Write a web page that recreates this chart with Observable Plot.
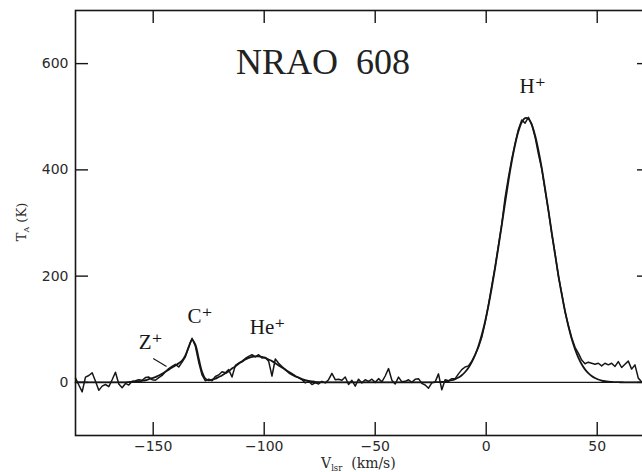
<!DOCTYPE html>
<html>
<head>
<meta charset="utf-8">
<script src="https://cdn.jsdelivr.net/npm/d3@7"></script>
<script src="https://cdn.jsdelivr.net/npm/@observablehq/plot@0.6"></script>
<style>
  html, body { margin: 0; padding: 0; background: #fff; overflow: hidden; }
  #chart { width: 642px; height: 472px; overflow: hidden; }
</style>
</head>
<body>
<div id="chart"></div>
<script>
// Channel velocities (km/s, LSR)
const velocity = [
  -185, -183.5, -182, -180.5, -179, -177.5, -176, -174.5, -173, -171.5,
  -170, -168.5, -167, -165.5, -164, -162.5, -161, -159.5, -158, -156.5,
  -155, -153.5, -152, -150.5, -149, -147.5, -146, -144.5, -143, -141.5,
  -140, -138.5, -137, -135.5, -134, -132.5, -131, -129.5, -128, -126.5,
  -125, -123.5, -122, -120.5, -119, -117.5, -116, -114.5, -113, -111.5,
  -110, -108.5, -107, -105.5, -104, -102.5, -101, -99.5, -98, -96.5,
  -95, -93.5, -92, -90.5, -89, -87.5, -86, -84.5, -83, -81.5,
  -80, -78.5, -77, -75.5, -74, -72.5, -71, -69.5, -68, -66.5,
  -65, -63.5, -62, -60.5, -59, -57.5, -56, -54.5, -53, -51.5,
  -50, -48.5, -47, -45.5, -44, -42.5, -41, -39.5, -38, -36.5,
  -35, -33.5, -32, -30.5, -29, -27.5, -26, -24.5, -23, -21.5,
  -20, -18.5, -17, -15.5, -14, -12.5, -11, -9.5, -8, -6.5,
  -5, -3.5, -2, -0.5, 1, 2.5, 4, 5.5, 7, 8.5,
  10, 11.5, 13, 14.5, 16, 17.5, 19, 20.5, 22, 23.5,
  25, 26.5, 28, 29.5, 31, 32.5, 34, 35.5, 37, 38.5,
  40, 41.5, 43, 44.5, 46, 47.5, 49, 50.5, 52, 53.5,
  55, 56.5, 58, 59.5, 61, 62.5, 64, 65.5, 67, 68.5,
  70
];

// Observed antenna temperature T_A (K)
const observed = [
  8, -5, -18, 10, 13, 18, 2, -15, -7, -4,
  -8, 5, 19, -3, -10, -2, -5, 2, 3, 5,
  4, 9, 10, 5, 4, 9, 13, 20, 26, 30,
  34, 29, 38, 48, 66, 83, 68, 38, 14, 3,
  6, 3, 11, 14, 20, 18, 24, 10, 32, 36,
  40, 45, 49, 52, 48, 52, 46, 47, 40, 12,
  44, 36, 30, 24, 18, 14, 11, 9, 5, -1,
  2, -4, -1, -3, 2, -1, 5, 17, 5, 6,
  4, 10, -4, 4, -7, 6, -1, 5, 2, 6,
  0, 7, 1, 12, 26, 4, -3, 10, 1, 2,
  5, 0, 6, 7, -2, -5, -11, -1, 1, 16,
  -14, 5, 3, 7, 7, 16, 24, 29, 31, 40,
  52, 66, 85, 112, 146, 182, 218, 258, 298, 348,
  386, 420, 450, 476, 494, 488, 499, 486, 462, 430,
  402, 362, 324, 280, 243, 200, 168, 133, 107, 84,
  66, 55, 42, 35, 38, 36, 34, 36, 31, 36,
  33, 36, 30, 39, 28, 34, 40, 25, 33, 8,
  1
];

// Fitted line profile (K)
const fit = [
  0, 0, 0, 0, 0, 0, 0, 0, 0, 0,
  0, 0, 0, 0, 0, 0, 0.5, 1, 1, 2,
  3, 4, 6, 8, 10, 13, 16, 20, 24, 28,
  32, 36, 41, 51, 67, 80, 71, 45, 20, 7,
  4, 5, 7, 10, 13, 17, 21, 26, 30, 35,
  39, 43, 46, 48, 49, 49, 48, 46, 43, 40,
  36, 32, 28, 24, 20, 16, 12, 9, 6, 4,
  3, 2, 1, 0.5, 0, 0, 0, 0, 0, 0,
  0, 0, 0, 0, 0, 0, 0, 0, 0, 0,
  0, 0, 0, 0, 0, 0, 0, 0, 0, 0,
  0, 0, 0, 0, 0, 0, 0, 0, 0.3, 0.6,
  1, 1.6, 2.6, 4, 6.2, 9.2, 13.5, 19.5, 27.4, 38,
  51.6, 68.6, 89.7, 114.8, 144.3, 177.8, 215, 255, 296, 338,
  378.6, 415.5, 447, 472.5, 489.5, 497.5, 496, 485, 465, 437,
  403.7, 365, 324, 282.5, 241, 202, 166, 134, 106, 82,
  62.5, 46.7, 34.2, 24.5, 17.3, 12, 8.1, 5.4, 3.5, 2.2,
  1.4, 0.9, 0.5, 0.3, 0.2, 0.1, 0, 0, 0, 0,
  0
];

const xTicks = [-150, -100, -50, 0, 50];
const yTicks = [0, 200, 400, 600];

// Recombination line identifications
const lineNames = ["Z\u207A", "C\u207A", "He\u207A", "H\u207A"];
const lineVelocity = [-156.5, -134.5, -106.5, 15];
const lineTemperature = [62, 111, 92, 544];

// Pointer from the Z+ label to the spectrum
const pointerFrom = [-150, 45];
const pointerTo = [-144, 30];

const sourceName = "NRAO\u00A0\u00A0608";

const spectrum = velocity.map((v, i) => ({v, observed: observed[i], fit: fit[i]}));
const labels = lineNames.map((name, i) => ({name, v: lineVelocity[i], t: lineTemperature[i]}));
const pointer = [{v1: pointerFrom[0], t1: pointerFrom[1], v2: pointerTo[0], t2: pointerTo[1]}];

const serif = "'Liberation Serif', 'DejaVu Serif', serif";
const sans = "'DejaVu Sans', sans-serif";
const ink = "#161616";

const W = 650, H = 472, mL = 75, mR = 0, mT = 10, mB = 37;
const tick = 13;
const frameW = W - mL - mR, frameH = H - mT - mB;

const chart = Plot.plot({
  width: W,
  height: H,
  marginLeft: mL,
  marginRight: mR,
  marginTop: mT,
  marginBottom: mB,
  style: {background: "#fff", color: ink, maxWidth: "none", overflow: "visible"},
  x: {domain: [-185, 74]},
  y: {domain: [-100, 700]},
  marks: [
    Plot.ruleY([0], {stroke: ink, strokeWidth: 1.4}),
    Plot.line(spectrum, {x: "v", y: "fit", curve: "catmull-rom", stroke: ink, strokeWidth: 1.8}),
    Plot.line(spectrum, {x: "v", y: "observed", stroke: ink, strokeWidth: 1.5}),
    Plot.frame({stroke: ink, strokeWidth: 1.6}),
    Plot.ruleX(xTicks, {insetTop: frameH - tick, stroke: ink, strokeWidth: 1.4}),
    Plot.ruleX(xTicks, {insetBottom: frameH - tick, stroke: ink, strokeWidth: 1.4}),
    Plot.ruleY(yTicks, {insetRight: frameW - tick, stroke: ink, strokeWidth: 1.4}),
    Plot.ruleY(yTicks, {insetLeft: frameW - tick, stroke: ink, strokeWidth: 1.4}),
    Plot.axisX({ticks: xTicks, tickSize: 0, tickPadding: 6, label: null, fontSize: 14, fontFamily: sans, fill: "#2a2a2a"}),
    Plot.axisY({ticks: yTicks, tickSize: 0, tickPadding: 7, label: null, fontSize: 14, fontFamily: sans, fill: "#2a2a2a"}),
    Plot.link(pointer, {x1: "v1", y1: "t1", x2: "v2", y2: "t2", stroke: ink, strokeWidth: 1.1}),
    Plot.text(labels, {x: "v", y: "t", text: "name", textAnchor: "start", lineAnchor: "bottom", fontSize: 21, fontFamily: serif, fill: ink}),
    Plot.text([sourceName], {frameAnchor: "top", dx: -40, dy: 63, lineAnchor: "bottom", fontSize: 36, fontFamily: serif, fill: "#222"})
  ]
});

document.getElementById("chart").appendChild(chart);

// Axis titles with subscripts
const svg = d3.select(chart);
const yTitle = svg.append("text")
  .attr("transform", "translate(26,222) rotate(-90)")
  .attr("text-anchor", "middle")
  .attr("font-family", "'DejaVu Serif', serif")
  .attr("font-size", 13)
  .attr("fill", "#2a2a2a");
yTitle.append("tspan").text("T");
yTitle.append("tspan").attr("font-size", 8).attr("dy", 3).text("A");
yTitle.append("tspan").attr("dy", -3).text("\u00A0(K)");

const xTitle = svg.append("text")
  .attr("x", 321)
  .attr("y", 468)
  .attr("text-anchor", "start")
  .attr("font-family", "'DejaVu Serif', serif")
  .attr("font-size", 14)
  .attr("fill", "#2a2a2a");
xTitle.append("tspan").text("V");
xTitle.append("tspan").attr("font-size", 8.5).attr("dy", 3).text("lsr");
xTitle.append("tspan").attr("dy", -3).text("\u00A0\u00A0(km/s)");
</script>
</body>
</html>
